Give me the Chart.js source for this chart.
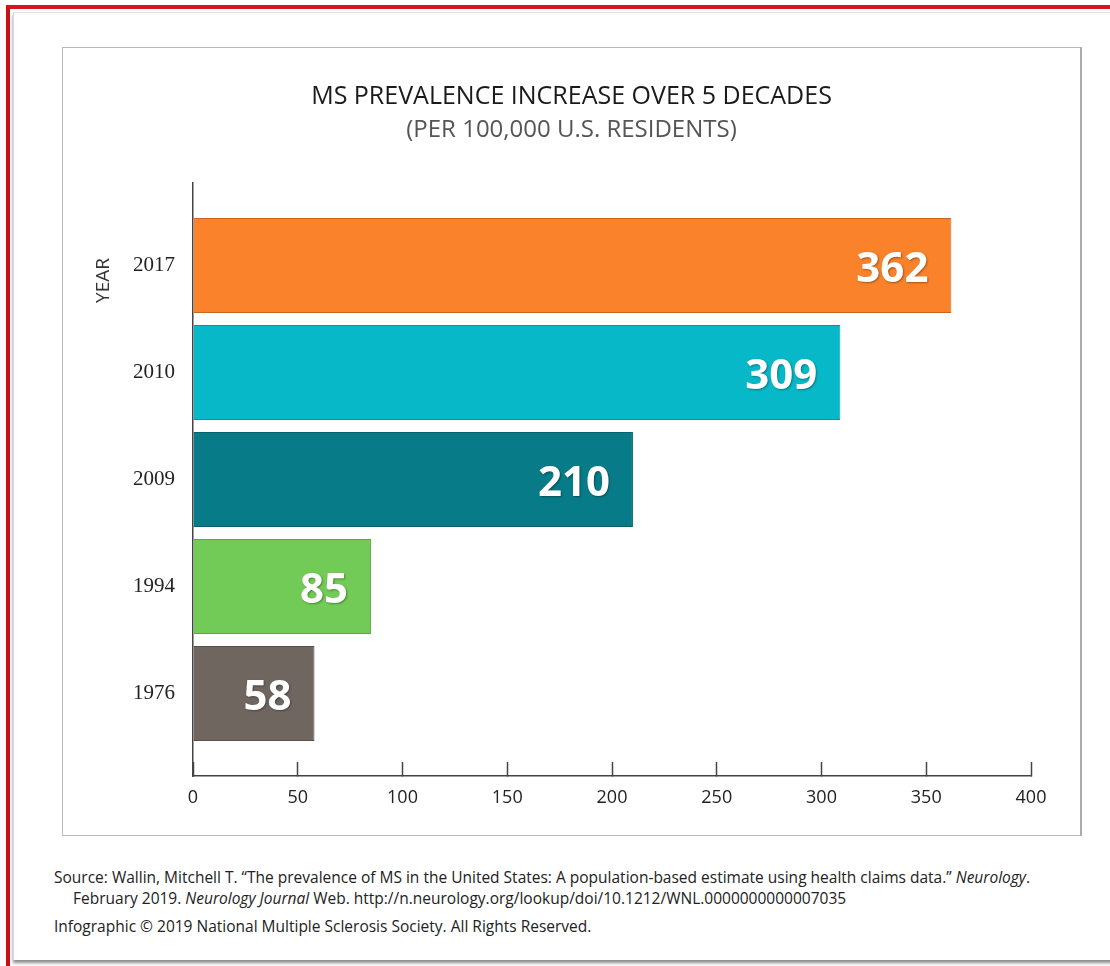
<!DOCTYPE html>
<html>
<head>
<meta charset="utf-8">
<script src="https://cdn.jsdelivr.net/npm/chart.js"></script>
<style>
  body { margin: 0; background: #fff; width: 1110px; height: 966px; overflow: hidden; position: relative; font-family: "Open Sans", sans-serif; }
  .frame { position: absolute; left: 6px; top: 5px; width: 1120px; height: 980px; border-top: 4px solid #d8141c; border-left: 4px solid #c8101a; }
  .bevel { position: absolute; left: 13px; top: 12px; width: 1110px; height: 947px; border-left: 1px solid #d8d8d8; border-top: 1px solid #e4e4e4; box-shadow: 0 3px 3px rgba(0,0,0,0.45); background: #fff; }
  .panel { position: absolute; left: 62px; top: 47px; width: 1017px; height: 787px; border: 1px solid #b8b8b8; border-right: 2px solid #aaa; background: #fff; }
  canvas { display: block; }
  .source { position: absolute; left: 54px; top: 867px; font-size: 15.5px; line-height: 21px; color: #222; }
  .source .indent { padding-left: 19px; }
  .copy { position: absolute; left: 54px; top: 915px; font-size: 15.5px; color: #222; }
</style>
</head>
<body>
<div class="frame"></div>
<div class="bevel"></div>
<div class="panel">
  <canvas id="msChart" width="1017" height="787"></canvas>
</div>
<div class="source">Source: Wallin, Mitchell T. “The prevalence of MS in the United States: A population-based estimate using health claims data.” <i>Neurology</i>.<br><span class="indent">February 2019. <i>Neurology Journal</i> Web. http://n.neurology.org/lookup/doi/10.1212/WNL.0000000000007035</span></div>
<div class="copy">Infographic © 2019 National Multiple Sclerosis Society. All Rights Reserved.</div>
<script>
// valores
const years = ['2017', '2010', '2009', '1994', '1976'];
const prevalence = [362, 309, 210, 85, 58];
const barColors = ['#f9822b', '#06b8c8', '#077b87', '#72cb56', '#6f6660'];
const barBorders = ['#c9661f', '#0595a3', '#05616b', '#5aa842', '#585049'];
const xTicks = [0, 50, 100, 150, 200, 250, 300, 350, 400];

// rótulos brancos dentro das barras + título "YEAR"
const barLabels = {
    id: 'barLabels',
    afterDatasetsDraw(chart) {
        const c = chart.ctx;
        const meta = chart.getDatasetMeta(0);
        c.save();
        c.font = 'bold 42px "Open Sans"';
        c.fillStyle = '#fff';
        c.textAlign = 'right';
        c.textBaseline = 'middle';
        c.shadowColor = 'rgba(0,0,0,0.35)';
        c.shadowBlur = 2;
        c.shadowOffsetX = 1;
        c.shadowOffsetY = 1;
        meta.data.forEach((bar, i) => {
            c.fillText(prevalence[i], bar.x - 23, bar.y + 5);
        });
        c.restore();

        const y = chart.scales.y;
        c.save();
        c.font = '19px "Open Sans"';
        c.fillStyle = '#333';
        c.textAlign = 'center';
        c.textBaseline = 'middle';
        c.translate(41, y.getPixelForValue(0) + 15);
        c.rotate(-Math.PI / 2);
        c.fillText('YEAR', 0, 0);
        c.restore();
    }
};

new Chart(document.getElementById('msChart').getContext('2d'), {
    type: 'bar',
    data: {
        labels: years,
        datasets: [{
            data: prevalence,
            backgroundColor: barColors,
            borderColor: barBorders,
            borderWidth: 1,
            categoryPercentage: 1,
            barPercentage: 0.89
        }]
    },
    options: {
        indexAxis: 'y',
        responsive: false,
        animation: false,
        layout: { padding: { left: 49, right: 49, top: 0, bottom: 0 } },
        plugins: {
            legend: { display: false },
            tooltip: { enabled: false },
            title: {
                display: true,
                text: 'MS PREVALENCE INCREASE OVER 5 DECADES',
                color: '#1a1a1a',
                font: { family: 'Open Sans', size: 25, weight: 'normal' },
                padding: { top: 34, bottom: 0 }
            },
            subtitle: {
                display: true,
                text: '(PER 100,000 U.S. RESIDENTS)',
                color: '#555',
                font: { family: 'Open Sans', size: 24, weight: 'normal' },
                padding: { top: 3.6, bottom: 38.6 }
            }
        },
        scales: {
            x: {
                min: 0,
                max: 400,
                afterBuildTicks(scale) {
                    scale.ticks = xTicks.map(v => ({ value: v }));
                },
                afterFit(scale) { scale.height = 59; },
                grid: {
                    drawOnChartArea: false,
                    tickLength: -14,
                    tickWidth: 1.5,
                    tickColor: '#444'
                },
                border: { color: '#444', width: 1.5 },
                ticks: {
                    padding: 25,
                    color: '#222',
                    font: { family: 'Open Sans', size: 18 }
                }
            },
            y: {
                // espaço extra acima e abaixo das barras, como no original
                afterBuildTicks(scale) {
                    scale._startValue -= 0.271;
                    scale._valueRange += 0.542;
                },
                afterFit(scale) { scale.width = 81; },
                grid: { display: false, drawTicks: false },
                border: { color: '#444', width: 1.5 },
                ticks: {
                    padding: 18,
                    color: '#222',
                    font: { family: 'Liberation Serif', size: 21 }
                }
            }
        }
    },
    plugins: [barLabels]
});
</script>
</body>
</html>
